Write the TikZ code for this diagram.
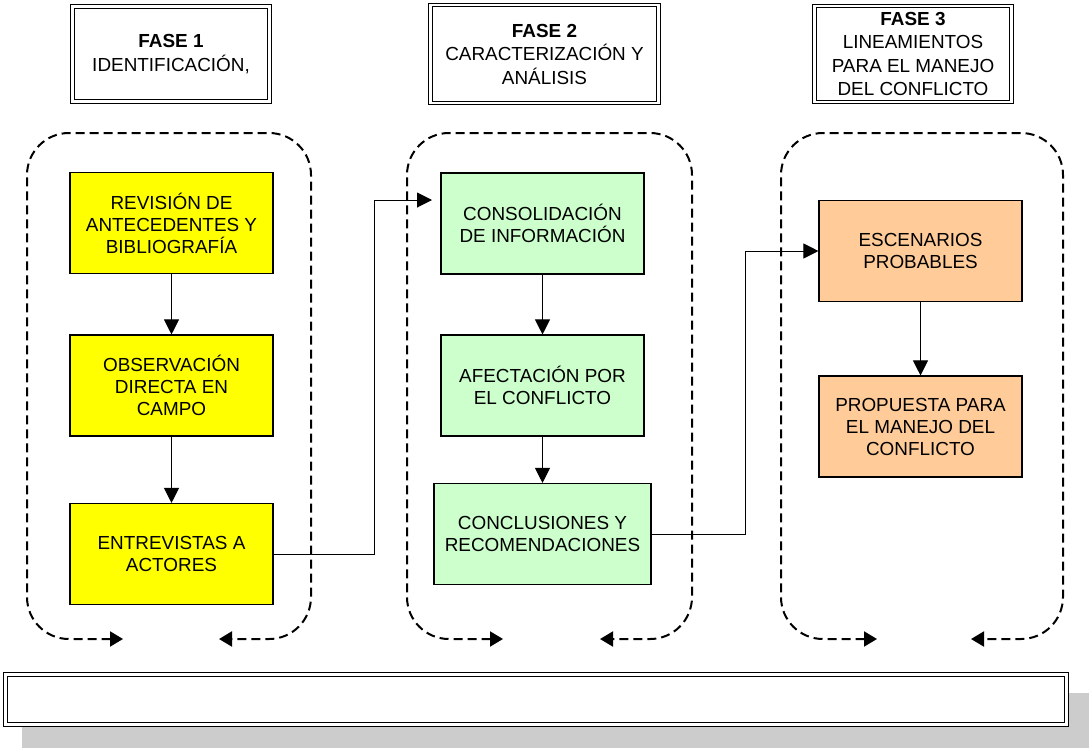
\documentclass[tikz,border=0pt]{standalone}
\usepackage{fontspec}
\setmainfont{Liberation Sans}
\usetikzlibrary{arrows.meta}
\definecolor{boxyellow}{HTML}{FFFF00}
\definecolor{boxgreen}{HTML}{CCFFCC}
\definecolor{boxorange}{HTML}{FFCC99}
\definecolor{shadowgray}{HTML}{CCCCCC}
\begin{document}
\begin{tikzpicture}[x=1pt,y=-1pt,
  fase/.style={draw,fill=white,line width=1.2pt,double,double distance=2.3pt,
    align=center,inner sep=2pt,font=\fontsize{18.9}{23.5}\selectfont},
  task/.style={draw,line width=1.1pt,minimum width=203pt,minimum height=101pt,
    align=center,inner sep=2pt,font=\fontsize{18.9}{22}\selectfont},
  flow/.style={line width=1pt,-{Triangle[length=15pt,width=15pt]}},
  zone/.style={line width=2pt,dash pattern=on 9pt off 5pt,rounded corners=42pt,
    {Triangle[length=13pt,width=15pt]}-{Triangle[length=13pt,width=15pt]}}]
  \useasboundingbox (0,0) rectangle (1089,748);
  \node[fase,minimum width=197pt,minimum height=95pt] (f1) at (171,54) {\textbf{FASE 1}\\IDENTIFICACIÓN,};
  \node[fase,minimum width=228pt,minimum height=98pt] (f2) at (544.5,54) {\textbf{FASE 2}\\CARACTERIZACIÓN Y\\ANÁLISIS};
  \node[fase,minimum width=197pt,minimum height=96pt] (f3) at (913,54) {\textbf{FASE 3}\\LINEAMIENTOS\\PARA EL MANEJO\\DEL CONFLICTO};

  \foreach \l/\r in {27/311,407/692,781/1063}
    \draw[zone] (\l+96,639) -- (\l,639) -- (\l,133) -- (\r,133) -- (\r,639) -- (\r-92,639);

  \node[task,fill=boxyellow] (rev) at (171.5,223) {REVISIÓN DE\\ANTECEDENTES Y\\BIBLIOGRAFÍA};
  \node[task,fill=boxyellow] (obs) at (171.5,385.5) {OBSERVACIÓN\\DIRECTA EN\\CAMPO};
  \node[task,fill=boxyellow] (ent) at (171.5,554) {ENTREVISTAS A\\ACTORES};
  \node[task,fill=boxgreen] (cons) at (542.5,223.5) {CONSOLIDACIÓN\\DE INFORMACIÓN};
  \node[task,fill=boxgreen] (afec) at (542.5,385.5) {AFECTACIÓN POR\\EL CONFLICTO};
  \node[task,fill=boxgreen,minimum width=217pt] (conc) at (542.5,534) {CONCLUSIONES Y\\RECOMENDACIONES};
  \node[task,fill=boxorange] (esc) at (920.5,251) {ESCENARIOS\\PROBABLES};
  \node[task,fill=boxorange] (prop) at (920.5,426.5) {PROPUESTA PARA\\EL MANEJO DEL\\CONFLICTO};

  \draw[flow] (rev) -- (obs);
  \draw[flow] (obs) -- (ent);
  \draw[flow] (cons) -- (afec);
  \draw[flow] (afec) -- (conc);
  \draw[flow] (esc) -- (prop);

  \coordinate (bendA) at (374,200);
  \coordinate (inA) at (432,200);
  \draw[flow] (ent.east) -| (bendA) -- (inA);
  \coordinate (bendB) at (745,251);
  \draw[flow] (conc.east) -| (bendB) -- (esc.west);

  \fill[shadowgray] (22,693) rectangle (1089,748);
  \node[fase,minimum width=1061pt,minimum height=50pt] (note) at (536,699.5) {};
\end{tikzpicture}
\end{document}
